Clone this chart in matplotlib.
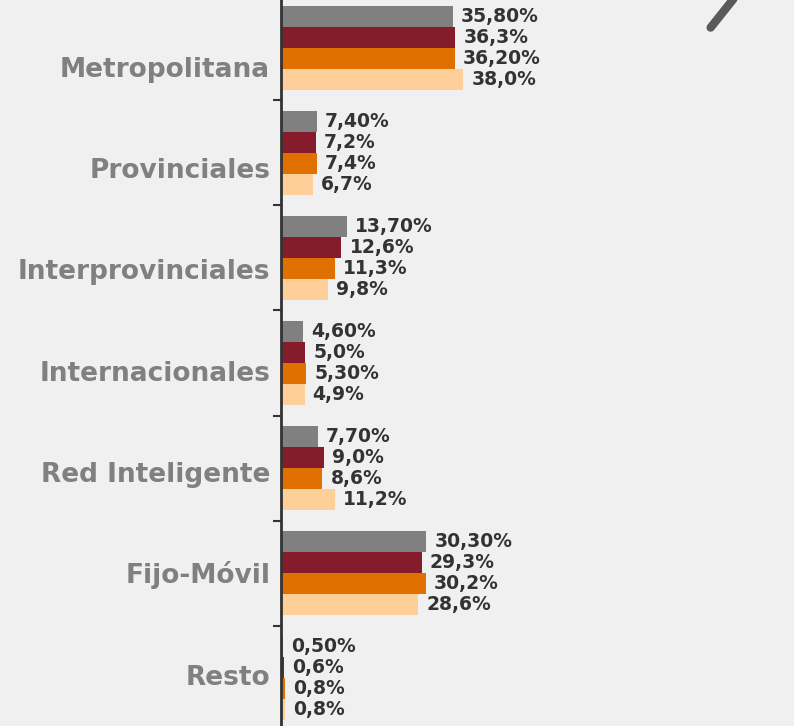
import matplotlib.pyplot as plt
import matplotlib.transforms as mtransforms
import numpy as np

categorias = ['Metropolitana', 'Provinciales', 'Interprovinciales', 'Internacionales',
              'Red Inteligente', 'Fijo-Móvil', 'Resto']
serie1 = [35.8, 7.4, 13.7, 4.6, 7.7, 30.3, 0.5]
serie2 = [36.3, 7.2, 12.6, 5.0, 9.0, 29.3, 0.6]
serie3 = [36.2, 7.4, 11.3, 5.3, 8.6, 30.2, 0.8]
serie4 = [38.0, 6.7, 9.8, 4.9, 11.2, 28.6, 0.8]
etiquetas1 = ['35,80%', '7,40%', '13,70%', '4,60%', '7,70%', '30,30%', '0,50%']
etiquetas2 = ['36,3%', '7,2%', '12,6%', '5,0%', '9,0%', '29,3%', '0,6%']
etiquetas3 = ['36,20%', '7,4%', '11,3%', '5,30%', '8,6%', '30,2%', '0,8%']
etiquetas4 = ['38,0%', '6,7%', '9,8%', '4,9%', '11,2%', '28,6%', '0,8%']

colores = ['#808080', '#841c2c', '#e07000', '#ffcf99']
series = [serie1, serie2, serie3, serie4]
etiquetas = [etiquetas1, etiquetas2, etiquetas3, etiquetas4]

plt.rcParams['font.family'] = ['DejaVu Sans']
fig = plt.figure(figsize=(7.94, 7.26), dpi=100, facecolor='#f0f0f0')
ax = fig.add_axes([281 / 794, 0, 1 - 281 / 794, 1])
ax.set_facecolor('#f0f0f0')

y = np.arange(len(categorias))
h = 0.2
for i in range(4):
    pos = y - 0.4 + h * (i + 0.5)
    ax.barh(pos, series[i], height=h, color=colores[i], zorder=2)
    for p, v, t in zip(pos, series[i], etiquetas[i]):
        ax.text(v + 1.7, p, t, va='center', ha='left', fontsize=13.5,
                fontweight='bold', color='#333333')

ax.set_xlim(0, 106.9)
ax.set_ylim(6.457, -0.457)

# etiquetas de categoria (en el original van algo desplazadas respecto a las barras)
trans = mtransforms.blended_transform_factory(ax.transAxes, ax.transData)
for k, nombre in enumerate(categorias):
    ax.text(-0.021, 0.273 + 0.965 * k, nombre, transform=trans, ha='right',
            va='baseline', fontsize=19, fontweight='bold', color='#808080')

ax.set_yticks(np.arange(0.5, 6.5, 1))
ax.set_yticklabels([])
ax.tick_params(axis='y', length=6, width=1.5, color='#333333')
ax.set_xticks([])
for s in ['top', 'right', 'bottom']:
    ax.spines[s].set_visible(False)
ax.spines['left'].set_color('#333333')
ax.spines['left'].set_linewidth(2)
ax.spines['left'].set_zorder(3)

# trazo decorativo arriba a la derecha
fig.add_artist(plt.Line2D([0.895, 0.93], [0.962, 1.01], transform=fig.transFigure,
                          color='#5a5a5a', linewidth=6, solid_capstyle='round'))

fig.savefig('out.png', dpi=100, facecolor=fig.get_facecolor())
